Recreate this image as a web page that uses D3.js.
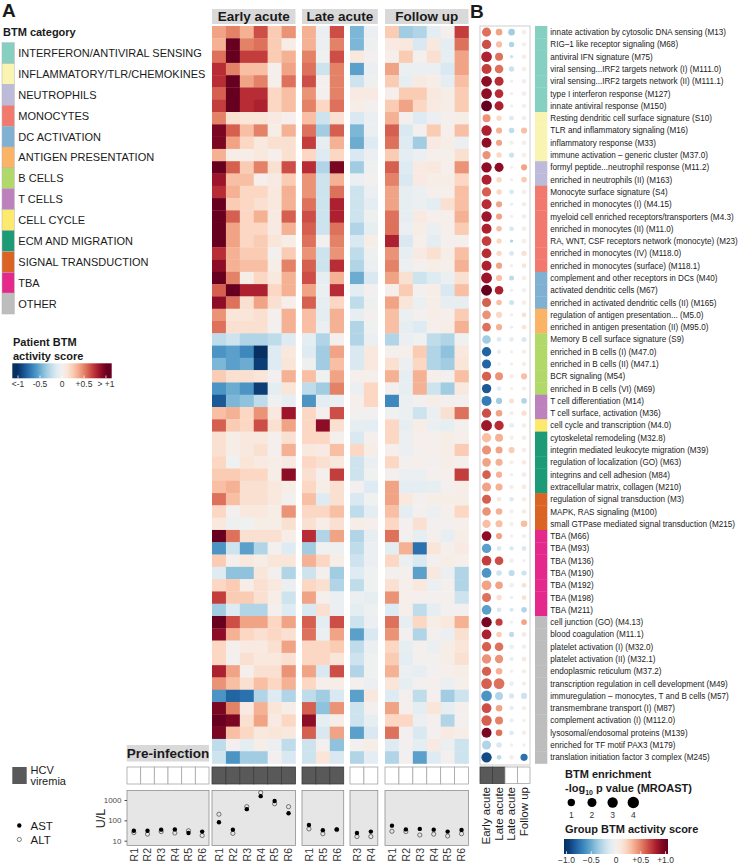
<!DOCTYPE html>
<html>
<head>
<meta charset="utf-8">
<script src="https://cdn.jsdelivr.net/npm/d3@7"></script>
<style>
  body { margin: 0; background: #fff; }
  svg { font-family: "Liberation Sans", Arial, Helvetica, sans-serif; }
</style>
</head>
<body>
<div id="chart"></div>
<script>
// ---- data ----
const categoryNames = ["INTERFERON/ANTIVIRAL SENSING", "INFLAMMATORY/TLR/CHEMOKINES", "NEUTROPHILS", "MONOCYTES",
  "DC ACTIVATION", "ANTIGEN PRESENTATION", "B CELLS", "T CELLS", "CELL CYCLE", "ECM AND MIGRATION",
  "SIGNAL TRANSDUCTION", "TBA", "OTHER"];
const categoryCounts = [7, 4, 2, 7, 3, 2, 5, 2, 1, 5, 3, 7, 12];

const moduleLabels = [
  "innate activation by cytosolic DNA sensing (M13)", "RIG\u20131 like receptor signaling (M68)",
  "antiviral IFN signature (M75)", "viral sensing...IRF2 targets network (I) (M111.0)",
  "viral sensing...IRF2 targets network (II) (M111.1)", "type I interferon response (M127)",
  "innate antiviral response (M150)", "Resting dendritic cell surface signature (S10)",
  "TLR and inflammatory signaling (M16)", "inflammatory response (M33)",
  "immune activation \u2013 generic cluster (M37.0)", "formyl peptide...neutrophil response (M11.2)",
  "enriched in neutrophils (II) (M163)", "Monocyte surface signature (S4)",
  "enriched in monocytes (I) (M4.15)", "myeloid cell enriched receptors/transporters (M4.3)",
  "enriched in monocytes (II) (M11.0)", "RA, WNT, CSF receptors network (monocyte) (M23)",
  "enriched in monocytes (IV) (M118.0)", "enriched in monocytes (surface) (M118.1)",
  "complement and other receptors in DCs (M40)", "activated dendritic cells (M67)",
  "enriched in activated dendritic cells (II) (M165)", "regulation of antigen presentation... (M5.0)",
  "enriched in antigen presentation (II) (M95.0)", "Memory B cell surface signature (S9)",
  "enriched in B cells (I) (M47.0)", "enriched in B cells (II) (M47.1)", "BCR signaling (M54)",
  "enriched in B cells (VI) (M69)", "T cell differentiation (M14)", "T cell surface, activation (M36)",
  "cell cycle and transcription (M4.0)", "cytoskeletal remodeling (M32.8)",
  "integrin mediated leukocyte migration (M39)", "regulation of localization (GO) (M63)",
  "integrins and cell adhesion (M84)", "extracellular matrix, collagen (M210)",
  "regulation of signal transduction (M3)", "MAPK, RAS signaling (M100)",
  "small GTPase mediated signal transduction (M215)", "TBA (M66)", "TBA (M93)", "TBA (M136)",
  "TBA (M190)", "TBA (M192)", "TBA (M198)", "TBA (M211)", "cell junction (GO) (M4.13)",
  "blood coagulation (M11.1)", "platelet activation (I) (M32.0)", "platelet activation (II) (M32.1)",
  "endoplasmic reticulum (M37.2)", "transcription regulation in cell development (M49)",
  "immuregulation \u2013 monocytes, T and B cells (M57)", "transmembrane transport (I) (M87)",
  "complement activation (I) (M112.0)", "lysosomal/endosomal proteins (M139)",
  "enriched for TF motif PAX3 (M179)", "translation initiation factor 3 complex (M245)"
];

const preInfection = ["R1", "R2", "R3", "R4", "R5", "R6"];
const earlyAcute = ["R1", "R2", "R3", "R4", "R5", "R6"];
const lateAcuteViremic = ["R1", "R5", "R6"];
const lateAcuteCleared = ["R3", "R4"];
const followUp = ["R1", "R2", "R3", "R4", "R5", "R6"];

// patient BTM activity scores, one row per module
const heatEarly = [
  [0.4,0.5,0.35,0.65,0.25,0.45],[0.35,1,0.5,0.55,0.25,0.05],[0.55,1,0.7,0.7,0.25,0.35],[0.75,0.5,0.3,0.3,0.03,0.4],
  [0.75,1,0.4,0.5,0.03,0.55],[0.6,1,0.75,0.75,0.2,0.3],[0.7,1,0.75,0.8,0.2,0.3],[0.5,0.15,0.12,0.12,0.08,0.03],
  [0.95,0.6,0.3,0.5,0.05,0.35],[0.95,0.4,0.2,0.1,0.15,0.15],[0.35,0.05,0.05,0.1,0.03,0.15],[1,0.6,0.25,0.5,0.15,0.65],
  [0.85,0.3,0.3,0.03,0.08,0.25],[0.75,0.35,0.2,0.2,0.1,0.35],[1,0.25,0.2,0.15,0.1,0.35],[1,0.6,0.2,0.35,0.08,0.6],
  [1,0.4,0.2,0.2,0.08,0.35],[1,0.4,0.2,0.25,0.12,0.05],[0.75,0.35,0.25,0.25,0,0.25],[0.9,0.35,0.3,0.3,0.05,0.5],
  [1,0.5,0.05,0.2,0.1,0.35],[0.6,1,0.8,0.8,0.2,0.35],[0.9,0.55,0.15,0.4,0.15,0.03],[0.45,0.12,0.12,0.15,0.02,0.35],
  [0.55,0.15,0.15,0.15,0,0.35],[-0.25,-0.2,-0.3,-0.3,-0.25,-0.12],[-0.6,-0.55,-0.65,-1,-0.12,0.1],[-0.45,-0.55,-0.5,-0.95,-0.12,0.12],
  [0.25,0.15,0.15,0.12,0,0.35],[-0.6,-0.5,-0.6,-0.95,-0.1,0.12],[-0.85,-0.45,-0.4,-0.25,-0.02,-0.08],[0.3,0.35,0.2,0.45,0.1,0.85],
  [0.6,0.25,0.2,0.65,0.15,0.4],[0.15,0.05,0.1,0.1,0.02,0.15],[0.15,0.05,0.1,0.15,0.02,0.35],[0.2,-0.02,0.12,0.08,0.05,0.08],
  [0.25,0.25,0.2,0.2,0.05,0.9],[0.3,0.35,0.15,0.15,0.1,0.05],[0.55,0.3,0.15,0.15,0.1,0],[0.2,0,0.1,0.1,0.05,0.45],
  [0.1,-0.03,-0.02,0.05,0.05,0.15],[1,0.55,0.15,0.15,0.15,0.05],[-0.6,-0.2,-0.55,-0.3,0,-0.12],[0.25,0.03,0.1,0.05,0.12,0.12],
  [-0.12,-0.4,-0.4,0.12,0,-0.3],[0.2,0.25,0.05,0.15,0.1,-0.05],[0.7,0.25,0.25,0.15,0.05,-0.2],[-0.35,-0.12,-0.3,-0.3,0.02,-0.12],
  [1,0.65,0.4,0.4,0.2,0.4],[0.9,0.35,0.2,0.15,0.2,0.15],[0.2,0.02,0.08,0.08,0.15,0.4],[0.2,0,0.15,0.1,0.1,0.15],
  [0.8,0.4,0.03,0.15,0.15,0.45],[0.45,0.3,0.15,0.3,0.2,0.35],[-0.6,-0.8,-0.75,-0.3,-0.12,-0.3],[0.95,0.5,0.08,0.35,0.12,0.05],
  [1,0.95,0.15,0.4,0.08,0.2],[0.95,0.3,0.2,0.1,0.12,0.1],[-0.25,0,-0.1,0.05,-0.05,-0.25],[-0.2,-0.6,-0.35,-0.35,0,-0.15]
];
const heatLateV = [
  [0.35,-0.05,0.65],[0.35,-0.05,0.5],[0.5,-0.02,0.65],[0.55,-0.2,0.5],[0.65,0.02,0.5],[0.45,0,0.5],[0.5,0.2,0.55],
  [0.3,-0.2,0.15],[0.55,-0.35,0.6],[0.7,-0.08,0.35],[0.2,-0.12,0.2],[0.75,-0.3,0.95],[0.45,-0.2,0.35],[0.45,-0.2,0.55],
  [0.55,-0.2,0.8],[0.65,-0.2,0.8],[0.6,-0.2,0.55],[0.55,0,0.5],[0.45,-0.2,0.45],[0.6,-0.2,0.75],[0.65,-0.08,0.35],
  [0.4,-0.05,0.75],[0.6,-0.08,0.2],[0.3,-0.1,0.35],[0.3,-0.05,0.35],[-0.1,-0.3,0.02],[-0.12,-0.35,0.4],[-0.03,-0.35,0.3],
  [0.3,-0.02,0.4],[-0.25,-0.35,0.5],[-0.6,-0.1,-0.05],[0.2,0.02,0.65],[0.2,0.9,0.15],[0.2,0.2,0.02],[0.1,0.08,0.3],
  [0.2,0.15,0.1],[0.15,0.02,0.7],[0.2,0.05,0.15],[0.3,-0.12,0.15],[0.2,0.2,0.3],[0.15,0.05,0.15],[0.75,-0.3,0.4],
  [-0.35,-0.02,-0.03],[0.35,0.2,0.05],[-0.2,0,-0.35],[0.2,0.15,-0.3],[0.4,0.03,-0.05],[-0.15,0.15,-0.05],[0.6,-0.1,0.65],
  [0.55,-0.05,0.4],[0.2,0.2,0.25],[0.2,0.2,0.12],[0.4,-0.15,0.65],[0.2,0.03,0.05],[-0.25,-0.35,-0.15],[0.6,-0.4,0.45],
  [0.9,-0.08,0.05],[0.6,-0.15,0.4],[-0.2,0,-0.4],[-0.2,0.12,-0.15]
];
const heatLateC = [
  [-0.45,-0.05],[-0.45,-0.03],[0.1,0],[-0.55,-0.05],[-0.2,-0.03],[0.08,0.08],[0.05,0],[-0.15,-0.05],[-0.45,-0.05],
  [-0.5,-0.12],[-0.15,-0.05],[-0.35,-0.03],[-0.05,0],[-0.2,-0.05],[-0.2,-0.1],[-0.2,-0.03],[-0.3,-0.08],[-0.15,0.05],
  [-0.25,-0.03],[-0.3,-0.05],[-0.5,-0.15],[-0.1,0],[-0.25,-0.03],[-0.08,0],[-0.3,-0.02],[-0.3,-0.05],[-0.15,0.1],
  [-0.15,0.1],[0.03,0.03],[-0.05,0.2],[0.03,0.2],[0,0],[-0.08,-0.1],[-0.15,0.02],[0.2,0.05],[-0.2,-0.05],[-0.2,-0.02],
  [0,-0.12],[-0.15,-0.02],[-0.25,-0.1],[0.05,0.03],[-0.3,-0.08],[-0.25,-0.05],[-0.2,-0.05],[-0.12,-0.02],[-0.25,-0.02],
  [-0.05,-0.08],[-0.1,-0.03],[-0.2,-0.05],[-0.55,-0.15],[-0.25,-0.05],[-0.2,-0.02],[-0.3,-0.02],[0.02,-0.05],[-0.55,0.1],
  [-0.2,0],[-0.2,-0.08],[-0.55,-0.15],[0,0.05],[-0.3,-0.1]
];
const heatFollow = [
  [0.25,-0.35,-0.3,-0.1,0.02,0.7],[0.08,0.1,-0.15,0.1,-0.1,0.55],[0.03,0.25,0.02,0.15,-0.08,0.4],[0.4,-0.05,-0.05,-0.05,-0.15,0.4],
  [0.25,-0.08,0.08,0.05,-0.1,0.3],[0.03,0.25,0.25,0.1,0.05,0.25],[0.25,0.4,0.2,0.08,0.05,0.25],[0.35,0.02,-0.12,-0.05,0.02,0.05],
  [0.6,-0.15,0,0.25,0.03,0.3],[0.55,-0.12,-0.35,0.08,0.05,-0.05],[0.25,-0.1,-0.05,0.03,0.03,0.15],[0.6,-0.12,0.08,0.1,0.03,0.45],
  [0.5,-0.15,0.08,0.05,0.05,0.2],[0.4,-0.08,-0.05,0.03,0.03,0.3],[0.4,-0.08,-0.05,-0.1,0.15,0.3],[0.55,-0.08,0.08,0.03,0.03,0.35],
  [0.55,-0.05,0.05,-0.05,0.03,0.25],[0.8,-0.15,0.03,-0.1,0.02,0.02],[0.45,-0.08,0.08,0.15,0.05,0.3],[0.5,-0.05,0.02,0.05,0.03,0.35],
  [0.4,0.15,-0.2,-0.12,-0.05,0.15],[0.03,0.25,0,0.05,-0.15,0.3],[0.4,0.12,-0.05,0.05,-0.08,-0.08],[0.3,-0.05,0,0.05,0.03,0.25],
  [0.3,-0.08,-0.12,0.03,0.05,0.35],[-0.3,-0.05,-0.02,-0.25,-0.3,-0.02],[0.02,0.03,0.25,-0.3,-0.4,0.1],[0.15,-0.05,0.2,-0.3,-0.35,0.12],
  [0.35,-0.08,0.35,0.03,0,0.3],[0.02,-0.08,0.35,-0.2,-0.35,0.1],[-0.65,-0.05,0,0.05,0,0],[-0.02,-0.05,-0.2,-0.05,0.15,0.55],
  [0.2,-0.08,0.05,-0.05,-0.08,0.02],[0.2,-0.05,0.03,0.02,0.05,0.03],[0.03,-0.05,0.02,0.03,0.05,0.25],[0.2,0,0.03,0,0.05,0.02],
  [0,-0.05,-0.05,0.02,0.03,0.7],[0.4,-0.1,-0.1,-0.08,0,0.05],[0.4,0.1,0,0.05,0.05,0.05],[0.3,-0.1,0,-0.05,0.03,0.2],
  [0.2,0,0.15,0,0,0.03],[0.55,0,-0.08,0.02,-0.08,0.05],[-0.1,0.35,-0.75,0.12,0.02,0.08],[0.2,-0.05,-0.15,0,0.05,0.03],
  [0,0.02,-0.55,0.1,-0.05,-0.3],[0.15,0.03,0.1,-0.05,0.02,-0.3],[0.45,0.03,0.02,0,0.02,-0.2],[-0.12,0.03,-0.25,-0.08,0,0],
  [0.55,-0.08,0.2,0.05,0.1,0.35],[0.45,0,-0.3,0,-0.05,0.15],[0.2,-0.08,0.02,-0.05,0.05,0.12],[0.25,-0.1,0,0,0.05,0.15],
  [0.35,-0.05,-0.08,0,0.03,0.05],[0.12,-0.08,0,0.02,-0.05,0.03],[-0.12,0.02,-0.25,0.02,-0.35,-0.2],[0.4,0.02,-0.1,0.12,-0.08,0.02],
  [0.2,0.2,-0.05,0.02,-0.3,0],[0.55,0,-0.15,0,0.08,0.05],[-0.12,0,-0.1,0.08,-0.05,-0.2],[-0.3,0,-0.55,-0.12,0,-0.2]
];

// group BTM activity score and -log10 p (MROAST): Early acute, Late acute (viremic), Late acute (cleared), Follow up
const groups = ["Early acute", "Late acute", "Late acute", "Follow up"];
const groupViremia = [1, 1, 0, 0];
const groupScore = [
  [0.55,0.4,-0.35,0.03],[0.65,0.3,-0.3,0.02],[0.8,0.55,-0.2,0.05],[0.7,0.55,-0.2,0.03],[0.9,0.75,0,0.02],[0.9,0.75,0,0.02],
  [1,0.8,0,0],[0.45,0.2,-0.12,-0.05],[0.8,0.35,-0.25,0.3],[0.9,0.4,0,0.03],[0.45,0.2,-0.2,0.03],[0.9,0.9,0,0.4],
  [0.8,0.2,0,0.25],[0.6,0.2,-0.15,0.03],[0.75,0.4,-0.05,0.05],[0.85,0.4,0,0.05],[0.8,0.3,-0.15,0.05],[0.7,0.2,-0.3,0.03],
  [0.75,0.2,-0.15,0.15],[0.8,0.4,0,0.12],[0.85,0.3,-0.25,0.03],[1,0.8,0,0],[0.6,0.3,-0.2,0.03],[0.45,0.2,0.05,0.15],
  [0.55,0.35,-0.05,0.12],[-0.35,-0.12,-0.08,-0.15],[-0.8,-0.08,0,0.05],[-0.8,0,0.03,0.05],[0.6,0.45,0.03,0.3],
  [-0.85,-0.1,0,0.03],[-0.7,-0.35,0.15,-0.3],[0.65,0.4,0.05,0.15],[0.85,0.75,-0.08,0.05],[0.3,0.35,0.03,0.05],
  [0.45,0.4,0.25,0.05],[0.4,0.35,0.03,0.08],[0.6,0.35,-0.03,0.05],[0.4,0.35,0.03,0.08],[0.6,0.1,-0.12,0.05],
  [0.45,0.35,0.02,0.08],[0.3,0.3,0.03,0.3],[0.9,0.4,0,0.05],[-0.55,-0.15,-0.15,-0.15],[0.7,0.65,-0.02,0],
  [-0.6,-0.2,-0.25,-0.2],[0.4,0.4,0,0.15],[0.55,0.15,-0.05,0.15],[-0.55,-0.15,-0.15,-0.3],[0.95,0.7,0,0.4],
  [0.8,0.25,-0.25,0.08],[0.6,0.55,-0.05,0.05],[0.45,0.45,-0.05,0.1],[0.6,0.35,0,0.05],[0.6,0.55,-0.05,0.05],
  [-0.6,-0.3,-0.15,-0.2],[0.65,0.4,-0.1,0.05],[0.6,0.5,-0.05,0],[0.95,0.55,-0.12,0.05],[-0.3,-0.15,0,0],[-0.9,-0.25,0,-0.75]
];
const groupLogP = [
  [2.0,0.65,0.65,0.1],[2.2,0.47,0.25,0.05],[3.3,1.3,0,0.1],[2.7,1.7,0.25,0.1],[3.3,2.0,0,0.1],[3.3,1.7,0,0.1],
  [3.5,2.0,0,0.05],[1.3,0.2,0.12,0.05],[3.0,0.47,0.3,0.47],[2.7,0.47,0.05,0.1],[1.5,0.25,0.2,0.1],[3.0,2.0,0,0.47],
  [2.7,0.25,0,0.3],[2.2,0.25,0.12,0.1],[2.7,0.47,0,0.1],[3.0,0.47,0,0.1],[2.7,0.3,0.12,0.1],[2.5,0.25,0,0.1],
  [2.5,0.25,0.12,0.2],[2.7,0.47,0,0.12],[3.5,0.47,0.16,0.1],[3.5,1.7,0,0.05],[2.0,0.3,0.16,0.1],[1.7,0.47,0,0.12],
  [1.7,0.47,0,0.12],[1.7,0.12,0.1,0.16],[2.2,0.05,0,0.05],[2.0,0,0,0.05],[2.2,1.3,0.1,0.47],
  [2.2,0.1,0,0.05],[2.7,0.47,0.16,0.3],[2.2,0.65,0.05,0.2],[3.5,2.2,0.12,0.1],[2.2,1.3,0.05,0.1],
  [2.0,0.85,0.47,0.1],[1.7,0.85,0.05,0.1],[1.7,0.47,0,0.1],[2.0,0.85,0.05,0.1],[2.0,0.12,0.1,0.1],
  [1.7,0.65,0.05,0.1],[1.5,0.85,0.05,0.65],[2.5,0.47,0,0.05],[2.2,0.12,0.05,0.12],[2.5,1.7,0.1,0],
  [2.5,0.3,0.47,0.2],[2.5,1.1,0.1,0.12],[2.0,0.25,0,0.1],[2.5,0.12,0.05,0.3],[3.0,0.85,0,0.3],
  [2.5,0.3,0.2,0.1],[2.2,1.7,0.1,0.05],[2.2,1.5,0.05,0.12],[2.2,0.65,0,0.05],[3.3,3.3,0.1,0.05],
  [3.3,1.3,0.2,0.47],[2.5,0.65,0.05,0.05],[3.0,1.3,0.05,0],[2.7,0.65,0.12,0.05],[2.0,0.3,0,0],[3.0,0.1,0.1,0.85]
];

// liver enzymes (U/L)
const astPre = [31, 31, 35, 36, 24, 28];
const altPre = [25, 21, 28, 24, 31, 18];
const astEarly = [81, 35, 355, 1550, 900, 225];
const altEarly = [200, 23, 470, 2300, 650, 470];
const astLateV = [59, 33, 36];
const altLateV = [38, 22, 35];
const astLateC = [24, 28];
const altLateC = [16, 16];
const astFollow = [55, 36, 38, 35, 28, 34];
const altFollow = [29, 28, 19, 21, 17, 22];

const sizeLegend = [1, 2, 3, 4];

// ---- layout ----
const W = 740, H = 863;
const catColors = ["#86d0c1", "#f9f4b1", "#bdbbd9", "#f1796e", "#80b1d3", "#fbb365", "#b0d96a",
  "#bd81bd", "#fde96e", "#1d9b77", "#da6424", "#e5288c", "#bdbdbd"];
const textCol = "#1a1a1a";

const svg = d3.select("#chart").append("svg")
  .attr("width", W).attr("height", H);

const color = d3.scaleSequential(d3.interpolateRdBu).domain([1, -1]).clamp(true);

const rowScale = d3.scaleBand().domain(d3.range(moduleLabels.length)).range([26, 763.5]);

// module -> category index
const rowCat = [];
categoryCounts.forEach((n, i) => { for (let k = 0; k < n; k++) rowCat.push(i); });

const panels = [
  { patients: preInfection, x0: 127, x1: 209, heat: null, viremia: 0, ast: astPre, alt: altPre },
  { patients: earlyAcute, x0: 212, x1: 295.5, heat: heatEarly, viremia: 1, ast: astEarly, alt: altEarly },
  { patients: lateAcuteViremic, x0: 302, x1: 343.7, heat: heatLateV, viremia: 1, ast: astLateV, alt: altLateV },
  { patients: lateAcuteCleared, x0: 350, x1: 377.8, heat: heatLateC, viremia: 0, ast: astLateC, alt: altLateC },
  { patients: followUp, x0: 385, x1: 468.5, heat: heatFollow, viremia: 0, ast: astFollow, alt: altFollow }
];
panels.forEach(p => {
  p.x = d3.scaleBand().domain(d3.range(p.patients.length)).range([p.x0, p.x1]);
});

// headers
const headers = [
  { label: "Early acute", x0: 212, x1: 295.5 },
  { label: "Late acute", x0: 302, x1: 377.8 },
  { label: "Follow up", x0: 385, x1: 468.5 }
];
const hdr = svg.append("g");
hdr.selectAll("rect").data(headers).join("rect")
  .attr("x", d => d.x0).attr("y", 9).attr("width", d => d.x1 - d.x0).attr("height", 15)
  .attr("fill", "#d9d9d9");
hdr.selectAll("text").data(headers).join("text")
  .attr("x", d => (d.x0 + d.x1) / 2).attr("y", 21.3)
  .attr("text-anchor", "middle").attr("font-size", "13.5px").attr("font-weight", "bold")
  .attr("fill", textCol).text(d => d.label);

// pre-infection header
svg.append("rect").attr("x", 126.7).attr("y", 745).attr("width", 82.3).attr("height", 16.5).attr("fill", "#d9d9d9");
svg.append("text").attr("x", 168).attr("y", 758.3).attr("text-anchor", "middle")
  .attr("font-size", "13.5px").attr("font-weight", "bold").attr("fill", textCol).text("Pre-infection");

// heatmap cells
panels.filter(p => p.heat).forEach(p => {
  const cells = [];
  p.heat.forEach((row, r) => row.forEach((v, c) => cells.push({ r, c, v })));
  svg.append("g").selectAll("rect").data(cells).join("rect")
    .attr("x", d => p.x(d.c)).attr("y", d => rowScale(d.r))
    .attr("width", p.x.bandwidth() + 0.3).attr("height", rowScale.bandwidth() + 0.3)
    .attr("fill", d => color(d.v));
});

// viremia boxes + lab panels
const yLab = d3.scaleLog().domain([10, 1000]).range([840.7, 800]);
panels.forEach((p, pi) => {
  const g = svg.append("g");
  g.selectAll("rect.vir").data(p.patients).join("rect").attr("class", "vir")
    .attr("x", (d, i) => p.x(i)).attr("y", 767).attr("width", p.x.bandwidth()).attr("height", 17)
    .attr("fill", p.viremia ? "#595959" : "#fff")
    .attr("stroke", p.viremia ? "#3d3d3d" : "#a6a6a6").attr("stroke-width", 0.8);

  g.append("rect").attr("x", p.x0).attr("y", 790.5).attr("width", p.x1 - p.x0).attr("height", 55)
    .attr("fill", "#e6e6e6").attr("stroke", "#8f8f8f").attr("stroke-width", 0.8);

  const cx = i => p.x(i) + p.x.bandwidth() / 2;
  g.selectAll("circle.alt").data(p.alt).join("circle").attr("class", "alt")
    .attr("cx", (d, i) => cx(i)).attr("cy", d => yLab(d)).attr("r", 2.1)
    .attr("fill", "none").attr("stroke", "#444").attr("stroke-width", 0.7);
  g.selectAll("circle.ast").data(p.ast).join("circle").attr("class", "ast")
    .attr("cx", (d, i) => cx(i)).attr("cy", d => yLab(d)).attr("r", 2.2)
    .attr("fill", "#000");

  g.selectAll("text.pt").data(p.patients).join("text").attr("class", "pt")
    .attr("transform", (d, i) => `translate(${cx(i) + 3.8},848) rotate(-90)`)
    .attr("text-anchor", "end").attr("font-size", "10.5px").attr("fill", "#333").text(d => d);

  if (pi === 0) {
    const ax = g.append("g").attr("transform", `translate(${p.x0},0)`)
      .call(d3.axisLeft(yLab).tickValues([10, 100, 1000]).tickFormat(d3.format("d")).tickSize(2.5));
    ax.select(".domain").remove();
    ax.selectAll("text").attr("font-size", "8px").attr("fill", "#4d4d4d").attr("font-family", null);
    ax.selectAll("line").attr("stroke", "#4d4d4d");
  }
});
svg.append("text").attr("transform", "translate(104.5,818.5) rotate(-90)")
  .attr("text-anchor", "middle").attr("font-size", "12.5px").attr("fill", textCol).text("U/L");

// ---- panel A legends ----
svg.append("text").attr("x", 2).attr("y", 17).attr("font-size", "19px").attr("font-weight", "bold").attr("fill", textCol).text("A");
svg.append("text").attr("x", 3).attr("y", 36).attr("font-size", "11px").attr("font-weight", "bold").attr("fill", textCol).text("BTM category");
const catY = d3.scaleBand().domain(d3.range(categoryNames.length)).range([42.7, 314]);
const catLeg = svg.append("g");
catLeg.selectAll("rect").data(categoryNames).join("rect")
  .attr("x", 2).attr("y", (d, i) => catY(i)).attr("width", 12.3).attr("height", catY.bandwidth())
  .attr("fill", (d, i) => catColors[i]).attr("stroke", "#b3b3b3").attr("stroke-width", 0.5);
catLeg.selectAll("text").data(categoryNames).join("text")
  .attr("x", 18.3).attr("y", (d, i) => catY(i) + catY.bandwidth() / 2 + 4)
  .attr("font-size", "11px").attr("fill", textCol).text(d => d);

// gradients
const defs = svg.append("defs");
function gradient(id, lo, hi) {
  const gr = defs.append("linearGradient").attr("id", id).attr("x1", "0%").attr("x2", "100%");
  d3.range(0, 1.0001, 0.05).forEach(t => {
    gr.append("stop").attr("offset", (t * 100) + "%").attr("stop-color", color(lo + (hi - lo) * t));
  });
}
gradient("gradPatient", -1.13, 1.13);
gradient("gradGroup", -1.05, 1.05);

svg.append("text").attr("x", 13).attr("y", 346).attr("font-size", "11px").attr("font-weight", "bold").attr("fill", textCol).text("Patient BTM");
svg.append("text").attr("x", 13).attr("y", 359.5).attr("font-size", "11px").attr("font-weight", "bold").attr("fill", textCol).text("activity score");
svg.append("rect").attr("x", 12.3).attr("y", 363.3).attr("width", 99.4).attr("height", 15).attr("fill", "url(#gradPatient)");
const pScale = d3.scaleLinear().domain([-1.13, 1.13]).range([12.3, 111.7]);
const pTicks = [-1, -0.5, 0, 0.5, 1];
const pTickLabels = ["<-1", "-0.5", "0", "+0.5", "> +1"];
svg.append("g").selectAll("line").data(pTicks).join("line")
  .attr("x1", d => pScale(d)).attr("x2", d => pScale(d)).attr("y1", 375.5).attr("y2", 378.3)
  .attr("stroke", "#fff").attr("stroke-width", 0.8);
svg.append("g").selectAll("text").data(pTicks).join("text")
  .attr("x", d => pScale(d)).attr("y", 387).attr("text-anchor", "middle")
  .attr("font-size", "8.5px").attr("fill", "#333").text((d, i) => pTickLabels[i]);

// HCV viremia + AST/ALT legend
svg.append("rect").attr("x", 12.3).attr("y", 767).attr("width", 14.4).attr("height", 17).attr("fill", "#595959");
svg.append("text").attr("x", 30.5).attr("y", 774).attr("font-size", "11px").attr("fill", textCol).text("HCV");
svg.append("text").attr("x", 30.5).attr("y", 785).attr("font-size", "11px").attr("fill", textCol).text("viremia");
svg.append("circle").attr("cx", 19.3).attr("cy", 825.5).attr("r", 2.2).attr("fill", "#000");
svg.append("text").attr("x", 30.5).attr("y", 829.5).attr("font-size", "11.5px").attr("fill", textCol).text("AST");
svg.append("circle").attr("cx", 19.3).attr("cy", 839.5).attr("r", 2.1).attr("fill", "none").attr("stroke", "#444").attr("stroke-width", 0.7);
svg.append("text").attr("x", 30.5).attr("y", 844).attr("font-size", "11.5px").attr("fill", textCol).text("ALT");

// ---- panel B ----
svg.append("text").attr("x", 470).attr("y", 18).attr("font-size", "19px").attr("font-weight", "bold").attr("fill", textCol).text("B");
svg.append("rect").attr("x", 480).attr("y", 26).attr("width", 50).attr("height", 739)
  .attr("fill", "none").attr("stroke", "#c2c2c2").attr("stroke-width", 0.8);

const gx = d3.scaleBand().domain(d3.range(groups.length)).range([480, 530]);
const rSize = d3.scaleSqrt().domain([0, 4]).range([1.7, 5.7]);
const dots = [];
groupScore.forEach((row, r) => row.forEach((v, c) => dots.push({ r, c, v, p: groupLogP[r][c] })));
svg.append("g").selectAll("circle").data(dots).join("circle")
  .attr("cx", d => gx(d.c) + gx.bandwidth() / 2 + 0.3)
  .attr("cy", d => rowScale(d.r) + rowScale.bandwidth() / 2)
  .attr("r", d => rSize(d.p)).attr("fill", d => color(d.v));

svg.append("g").selectAll("rect").data(rowCat).join("rect")
  .attr("x", 535).attr("y", (d, i) => rowScale(i)).attr("width", 12.3).attr("height", rowScale.bandwidth() + 0.3)
  .attr("fill", d => catColors[d]);

svg.append("g").selectAll("text").data(moduleLabels).join("text")
  .attr("x", 550.3).attr("y", (d, i) => rowScale(i) + rowScale.bandwidth() / 2 + 3)
  .attr("font-size", "8.15px").attr("fill", "#222").text(d => d);

svg.append("g").selectAll("rect").data(groups).join("rect")
  .attr("x", (d, i) => gx(i)).attr("y", 767).attr("width", gx.bandwidth()).attr("height", 16.5)
  .attr("fill", (d, i) => groupViremia[i] ? "#595959" : "#fff")
  .attr("stroke", (d, i) => groupViremia[i] ? "#3d3d3d" : "#a6a6a6").attr("stroke-width", 0.8);
svg.append("g").selectAll("text").data(groups).join("text")
  .attr("transform", (d, i) => `translate(${gx(i) + gx.bandwidth() / 2 + 4.2},787) rotate(-90)`)
  .attr("text-anchor", "end").attr("font-size", "11.5px").attr("fill", textCol).text(d => d);

// size legend
const lg = svg.append("g");
lg.append("text").attr("x", 565).attr("y", 777.5).attr("font-size", "11px").attr("font-weight", "bold").attr("fill", textCol).text("BTM enrichment");
const t2 = lg.append("text").attr("x", 565).attr("y", 792).attr("font-size", "11px").attr("font-weight", "bold").attr("fill", textCol);
t2.append("tspan").text("-log");
t2.append("tspan").attr("font-size", "7px").attr("dy", 2.5).text("10");
t2.append("tspan").attr("dy", -2.5).text(" p value (MROAST)");
const sx = d3.scalePoint().domain(sizeLegend).range([571.3, 633.3]);
lg.selectAll("circle").data(sizeLegend).join("circle")
  .attr("cx", d => sx(d)).attr("cy", 802.5).attr("r", d => rSize(d)).attr("fill", "#000");
lg.selectAll("text.sz").data(sizeLegend).join("text").attr("class", "sz")
  .attr("x", d => sx(d)).attr("y", 818).attr("text-anchor", "middle")
  .attr("font-size", "8.5px").attr("fill", "#333").text(d => d);

lg.append("text").attr("x", 565).attr("y", 833).attr("font-size", "11px").attr("font-weight", "bold").attr("fill", textCol).text("Group BTM activity score");
lg.append("rect").attr("x", 564).attr("y", 839).attr("width", 104).attr("height", 15).attr("fill", "url(#gradGroup)");
const gScale = d3.scaleLinear().domain([-1.05, 1.05]).range([564, 668]);
const gTicks = [-1, -0.5, 0, 0.5, 1];
const gTickLabels = ["\u22121.0", "\u22120.5", "0", "+0.5", "+1.0"];
lg.selectAll("line").data(gTicks).join("line")
  .attr("x1", d => gScale(d)).attr("x2", d => gScale(d)).attr("y1", 851.3).attr("y2", 854)
  .attr("stroke", "#fff").attr("stroke-width", 0.8);
lg.selectAll("text.gt").data(gTicks).join("text").attr("class", "gt")
  .attr("x", d => gScale(d)).attr("y", 862.5).attr("text-anchor", "middle")
  .attr("font-size", "8.5px").attr("fill", "#333").text((d, i) => gTickLabels[i]);
</script>
</body>
</html>
